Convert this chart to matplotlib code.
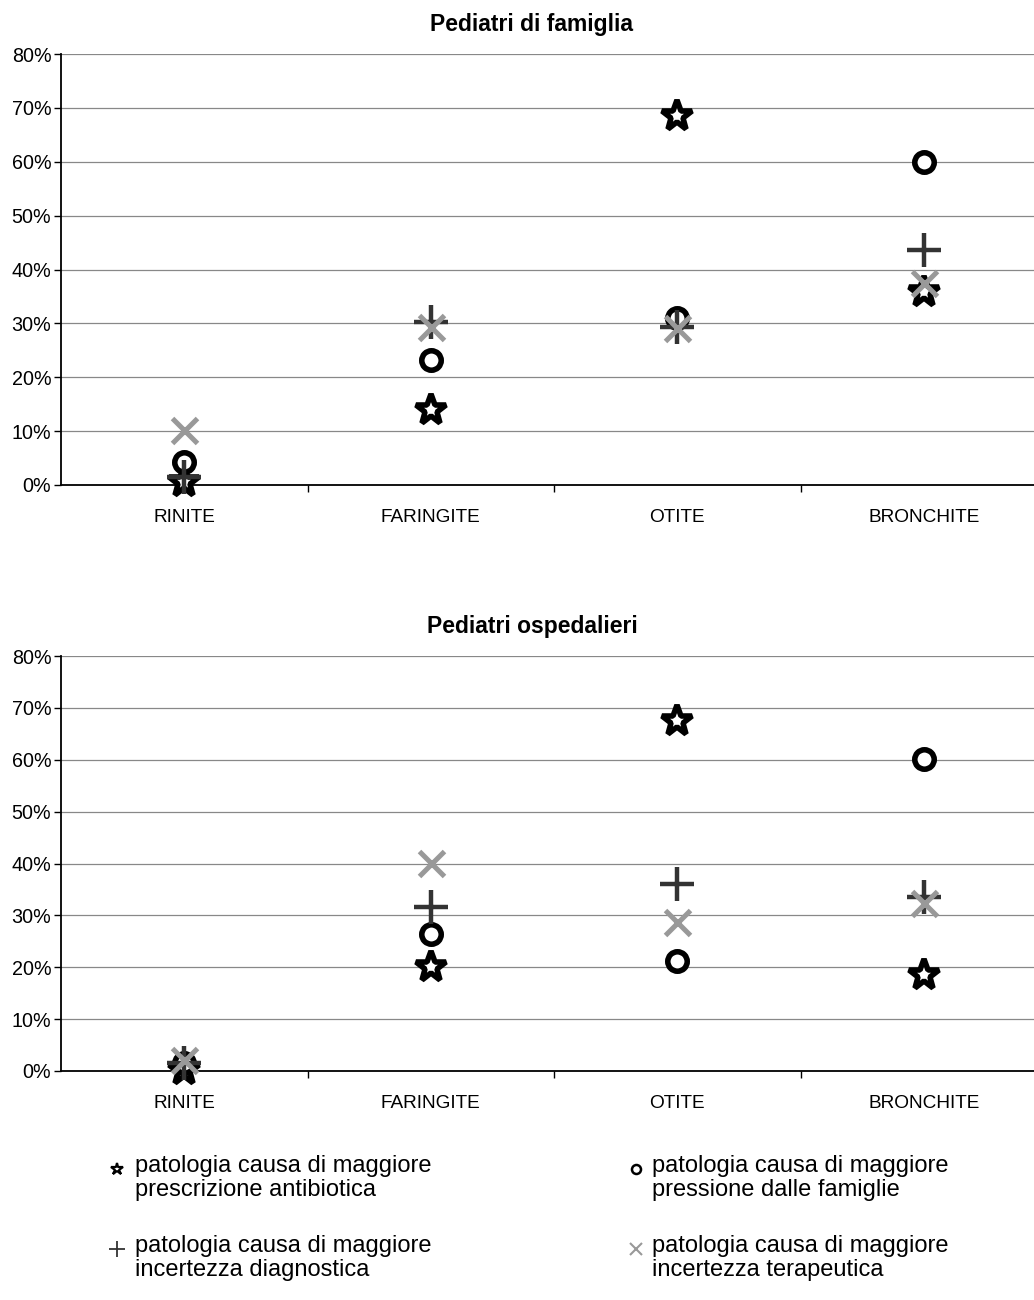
import matplotlib
matplotlib.use("Agg")
import matplotlib.pyplot as plt
from matplotlib.lines import Line2D
from matplotlib.ticker import FuncFormatter, FixedLocator
import numpy as np

plt.rcParams['font.family'] = ['Liberation Sans', 'DejaVu Sans']

categories = ["RINITE", "FARINGITE", "OTITE", "BRONCHITE"]
titles = ["Pediatri di famiglia", "Pediatri ospedalieri"]

# Percentages per category, one list per chart
famiglia_antibiotica = [0.5, 13.9, 68.4, 35.8]
famiglia_pressione = [4.3, 23.2, 31.0, 59.9]
famiglia_diagnostica = [1.5, 30.2, 29.3, 43.6]
famiglia_terapeutica = [10.2, 29.3, 29.1, 37.5]

ospedalieri_antibiotica = [0.2, 20.0, 67.4, 18.5]
ospedalieri_pressione = [1.5, 26.4, 21.2, 60.1]
ospedalieri_diagnostica = [1.5, 31.6, 36.0, 33.5]
ospedalieri_terapeutica = [2.1, 40.1, 28.7, 32.4]

labels = [
    "patologia causa di maggiore\nprescrizione antibiotica",
    "patologia causa di maggiore\npressione dalle famiglie",
    "patologia causa di maggiore\nincertezza diagnostica",
    "patologia causa di maggiore\nincertezza terapeutica",
]

styles = [
    dict(marker='*', ms=23, mfc='white', mec='black', mew=4.0),
    dict(marker='o', ms=14, mfc='white', mec='black', mew=4.0),
    dict(marker='+', ms=24, mfc='none', mec='#333333', mew=3.2),
    dict(marker='x', ms=18, mfc='none', mec='#999999', mew=3.6),
]

data = [
    [famiglia_antibiotica, famiglia_pressione, famiglia_diagnostica, famiglia_terapeutica],
    [ospedalieri_antibiotica, ospedalieri_pressione, ospedalieri_diagnostica, ospedalieri_terapeutica],
]

W, H = 1034, 1300
fig = plt.figure(figsize=(W / 100, H / 100), dpi=100)

left_px, right_px = 61, 1047
boxes = [(54, 485), (656, 1071)]
title_y = [25, 627]

x = np.arange(len(categories))
for k, ((top_px, bot_px), series) in enumerate(zip(boxes, data)):
    ax = fig.add_axes([left_px / W, 1 - bot_px / H,
                       (right_px - left_px) / W, (bot_px - top_px) / H])
    ax.set_xlim(-0.5, len(categories) - 0.5)
    ax.set_ylim(0, 80)
    ax.set_yticks(np.arange(0, 81, 10))
    ax.yaxis.set_major_formatter(FuncFormatter(lambda v, p: f"{v:.0f}%"))
    ax.set_xticks(x)
    ax.set_xticklabels(categories)
    ax.xaxis.set_minor_locator(FixedLocator(np.arange(0.5, len(categories) - 0.5, 1)))
    ax.tick_params(axis='x', which='major', length=0, pad=17, labelsize=13.7)
    ax.tick_params(axis='x', which='minor', length=5, width=1, color='black', direction='out')
    ax.tick_params(axis='y', length=5, width=1, color='black', labelsize=14.2, pad=2)
    for s in ('top', 'right'):
        ax.spines[s].set_visible(False)
    for s in ('left', 'bottom'):
        ax.spines[s].set_color('black')
        ax.spines[s].set_linewidth(1.3)
    for v in range(10, 81, 10):
        ax.axhline(v, color='#888888', lw=0.9, zorder=0)
    for vals, st in zip(series, styles):
        ax.plot(x, vals, linestyle='none', clip_on=False, zorder=3, **st)
    fig.text(532 / W, 1 - title_y[k] / H, titles[k], ha='center', va='center',
             fontsize=16.5, fontweight='bold')

# Legend: two columns of markers with wrapped labels
legend_styles = [
    dict(marker='*', ms=9, mfc='white', mec='black', mew=1.6),
    dict(marker='o', ms=6.5, mfc='white', mec='black', mew=1.8),
    dict(marker='+', ms=11, mfc='none', mec='#333333', mew=1.3),
    dict(marker='x', ms=8, mfc='none', mec='#999999', mew=1.5),
]
marker_x = [117, 636, 117, 636]
text_x = [135, 652, 135, 652]
row_y = [1167, 1167, 1247, 1247]
for i in range(4):
    fig.add_artist(Line2D([marker_x[i] / W], [1 - (row_y[i] + 2) / H],
                          transform=fig.transFigure, linestyle='none',
                          **legend_styles[i]))
    fig.text(text_x[i] / W, 1 - (row_y[i] - 12) / H, labels[i], ha='left', va='top',
             fontsize=17, linespacing=1.1)

fig.savefig("out.png", dpi=100)
